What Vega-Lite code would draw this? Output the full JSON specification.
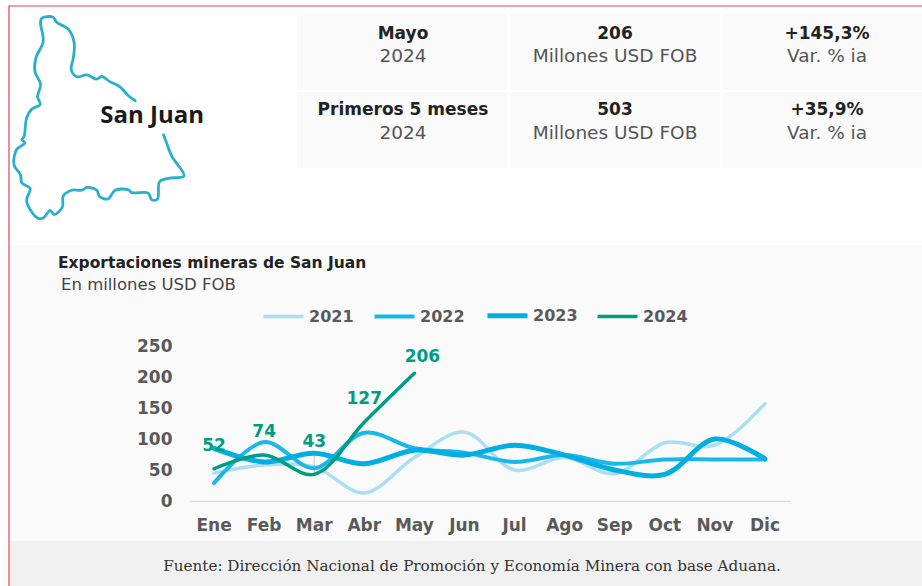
{
"$schema":"https://vega.github.io/schema/vega-lite/v6.json",
"width":922,"height":586,"padding":0,"autosize":{"type":"none"},"background":"white",
"config":{"view":{"stroke":null},"font":"DejaVu Sans","text":{"font":"DejaVu Sans"}},
"datasets":{
"cells":[
{"col":"periodo","row":"mes","head":"Mayo","sub":"2024"},
{"col":"valor","row":"mes","head":"206","sub":"Millones USD FOB"},
{"col":"var","row":"mes","head":"+145,3%","sub":"Var. % ia"},
{"col":"periodo","row":"acum","head":"Primeros 5 meses","sub":"2024"},
{"col":"valor","row":"acum","head":"503","sub":"Millones USD FOB"},
{"col":"var","row":"acum","head":"+35,9%","sub":"Var. % ia"}],
"map":[
{"o":1,"lon":-67.82,"lat":-30.15},{"o":2,"lon":-67.98,"lat":-30.04},{"o":3,"lon":-68.17,"lat":-29.86},{"o":4,"lon":-68.40,"lat":-29.75},{"o":5,"lon":-68.59,"lat":-29.64},{"o":6,"lon":-68.70,"lat":-29.70},{"o":7,"lon":-68.93,"lat":-29.61},{"o":8,"lon":-69.15,"lat":-29.65},{"o":9,"lon":-69.25,"lat":-29.58},{"o":10,"lon":-69.29,"lat":-29.47},{"o":11,"lon":-69.24,"lat":-29.26},{"o":12,"lon":-69.22,"lat":-28.94},{"o":13,"lon":-69.35,"lat":-28.66},{"o":14,"lon":-69.62,"lat":-28.51},{"o":15,"lon":-69.71,"lat":-28.40},{"o":16,"lon":-69.97,"lat":-28.43},{"o":17,"lon":-69.99,"lat":-28.53},{"o":18,"lon":-69.93,"lat":-28.91},{"o":19,"lon":-70.10,"lat":-29.26},{"o":20,"lon":-70.12,"lat":-29.54},{"o":21,"lon":-69.99,"lat":-29.81},{"o":22,"lon":-70.06,"lat":-30.06},{"o":23,"lon":-70.00,"lat":-30.23},{"o":24,"lon":-70.19,"lat":-30.32},{"o":25,"lon":-70.31,"lat":-30.51},{"o":26,"lon":-70.37,"lat":-30.90},{"o":27,"lon":-70.42,"lat":-30.96},{"o":28,"lon":-70.35,"lat":-31.03},{"o":29,"lon":-70.54,"lat":-31.17},{"o":30,"lon":-70.60,"lat":-31.49},{"o":31,"lon":-70.45,"lat":-31.70},{"o":32,"lon":-70.42,"lat":-31.87},{"o":33,"lon":-70.23,"lat":-31.98},{"o":34,"lon":-70.31,"lat":-32.25},{"o":35,"lon":-70.06,"lat":-32.60},{"o":36,"lon":-69.93,"lat":-32.60},{"o":37,"lon":-69.77,"lat":-32.44},{"o":38,"lon":-69.68,"lat":-32.53},{"o":39,"lon":-69.49,"lat":-32.37},{"o":40,"lon":-69.47,"lat":-32.14},{"o":41,"lon":-69.28,"lat":-32.02},{"o":42,"lon":-69.05,"lat":-32.02},{"o":43,"lon":-68.92,"lat":-31.96},{"o":44,"lon":-68.70,"lat":-32.02},{"o":45,"lon":-68.64,"lat":-32.15},{"o":46,"lon":-68.44,"lat":-32.20},{"o":47,"lon":-68.28,"lat":-32.02},{"o":48,"lon":-67.98,"lat":-32.01},{"o":49,"lon":-67.90,"lat":-32.07},{"o":50,"lon":-67.52,"lat":-32.08},{"o":51,"lon":-67.44,"lat":-32.22},{"o":52,"lon":-67.31,"lat":-32.21},{"o":53,"lon":-67.26,"lat":-31.84},{"o":54,"lon":-67.06,"lat":-31.77},{"o":55,"lon":-66.70,"lat":-31.72},{"o":56,"lon":-66.98,"lat":-31.31},{"o":57,"lon":-67.10,"lat":-31.03},{"o":58,"lon":-67.17,"lat":-30.86}],
"series":[
{"mes":"Ene","anio":"2021","v":45},{"mes":"Feb","anio":"2021","v":58},{"mes":"Mar","anio":"2021","v":55},{"mes":"Abr","anio":"2021","v":13},{"mes":"May","anio":"2021","v":70},{"mes":"Jun","anio":"2021","v":111},{"mes":"Jul","anio":"2021","v":50},{"mes":"Ago","anio":"2021","v":70},{"mes":"Sep","anio":"2021","v":44},{"mes":"Oct","anio":"2021","v":94},{"mes":"Nov","anio":"2021","v":90},{"mes":"Dic","anio":"2021","v":157},
{"mes":"Ene","anio":"2022","v":29},{"mes":"Feb","anio":"2022","v":95},{"mes":"Mar","anio":"2022","v":53},{"mes":"Abr","anio":"2022","v":110},{"mes":"May","anio":"2022","v":85},{"mes":"Jun","anio":"2022","v":78},{"mes":"Jul","anio":"2022","v":63},{"mes":"Ago","anio":"2022","v":74},{"mes":"Sep","anio":"2022","v":60},{"mes":"Oct","anio":"2022","v":67},{"mes":"Nov","anio":"2022","v":67},{"mes":"Dic","anio":"2022","v":67},
{"mes":"Ene","anio":"2023","v":85},{"mes":"Feb","anio":"2023","v":63},{"mes":"Mar","anio":"2023","v":77},{"mes":"Abr","anio":"2023","v":60},{"mes":"May","anio":"2023","v":82},{"mes":"Jun","anio":"2023","v":74},{"mes":"Jul","anio":"2023","v":90},{"mes":"Ago","anio":"2023","v":74},{"mes":"Sep","anio":"2023","v":50},{"mes":"Oct","anio":"2023","v":43},{"mes":"Nov","anio":"2023","v":100},{"mes":"Dic","anio":"2023","v":68},
{"mes":"Ene","anio":"2024","v":52},{"mes":"Feb","anio":"2024","v":74},{"mes":"Mar","anio":"2024","v":43},{"mes":"Abr","anio":"2024","v":127},{"mes":"May","anio":"2024","v":206}]
},
"resolve":{"scale":{"x":"independent","y":"independent","color":"independent","strokeWidth":"independent"}},
"layer":[
{"data":{"values":[{"p":"panel"}]},"mark":{"type":"rect","fill":"#fafafa"},
 "encoding":{"x":{"field":"p","type":"nominal","axis":null,"scale":{"type":"band","range":[10,922],"padding":0}},"y":{"field":"p","type":"nominal","axis":null,"scale":{"type":"band","range":[245,541],"padding":0}}}},
{"data":{"values":[{"p":"pie"}]},"mark":{"type":"rect","fill":"#f0f0f0"},
 "encoding":{"x":{"field":"p","type":"nominal","axis":null,"scale":{"type":"band","range":[10,922],"padding":0}},"y":{"field":"p","type":"nominal","axis":null,"scale":{"type":"band","range":[541,586],"padding":0}}}},
{"data":{"values":[{"p":"marco"}]},"mark":{"type":"rect","fill":null,"stroke":"#e2444f","strokeWidth":1.2},
 "encoding":{"x":{"field":"p","type":"nominal","axis":null,"scale":{"type":"band","range":[9,960],"padding":0}},"y":{"field":"p","type":"nominal","axis":null,"scale":{"type":"band","range":[6,640],"padding":0}}}},
{"data":{"name":"cells"},"mark":{"type":"rect","fill":"#fafafa"},
 "encoding":{"x":{"field":"col","type":"nominal","axis":null,"scale":{"type":"band","domain":["periodo","valor","var"],"range":[297,933],"paddingInner":0.012,"paddingOuter":0}},"y":{"field":"row","type":"nominal","axis":null,"scale":{"type":"band","domain":["mes","acum"],"range":[14,168],"paddingInner":0.026,"paddingOuter":0}}}},
{"data":{"name":"cells"},"mark":{"type":"text","font":"DejaVu Sans","fontWeight":700,"fontSize":17,"color":"#222222"},
 "encoding":{"text":{"field":"head"},"x":{"field":"col","type":"nominal","axis":null,"scale":{"type":"band","domain":["periodo","valor","var"],"range":[297,933],"padding":0}},"y":{"field":"row","type":"nominal","axis":null,"scale":{"type":"point","domain":["mes","acum"],"range":[34,110],"padding":0}}}},
{"data":{"name":"cells"},"mark":{"type":"text","font":"DejaVu Sans","fontWeight":400,"fontSize":18.5,"color":"#555555"},
 "encoding":{"text":{"field":"sub"},"x":{"field":"col","type":"nominal","axis":null,"scale":{"type":"band","domain":["periodo","valor","var"],"range":[297,933],"padding":0}},"y":{"field":"row","type":"nominal","axis":null,"scale":{"type":"point","domain":["mes","acum"],"range":[56,133],"padding":0}}}},
{"data":{"name":"map"},"mark":{"type":"line","color":"#27b0cb","strokeWidth":2.8,"strokeJoin":"round","strokeCap":"round","interpolate":"catmull-rom"},
 "encoding":{"order":{"field":"o","type":"quantitative"},"x":{"field":"lon","type":"quantitative","axis":null,"scale":{"domain":[-70.6,-66.7],"range":[14,184],"zero":false,"nice":false}},"y":{"field":"lat","type":"quantitative","axis":null,"scale":{"domain":[-32.6,-28.4],"range":[218,17],"zero":false,"nice":false}}}},
{"data":{"values":[{"n":"San Juan","lon":-67.43,"lat":-30.47}]},"mark":{"type":"text","font":"Open Sans","fontWeight":700,"fontSize":24,"color":"#1a1a1a"},
 "encoding":{"text":{"field":"n"},"x":{"field":"lon","type":"quantitative","axis":null,"scale":{"domain":[-70.6,-66.7],"range":[14,184],"zero":false,"nice":false}},"y":{"field":"lat","type":"quantitative","axis":null,"scale":{"domain":[-32.6,-28.4],"range":[218,17],"zero":false,"nice":false}}}},
{"data":{"values":[{"t":"Exportaciones mineras de San Juan"}]},"mark":{"type":"text","font":"DejaVu Sans","fontWeight":700,"fontSize":15.5,"align":"left","color":"#222222"},
 "encoding":{"text":{"field":"t"},"x":{"field":"t","type":"nominal","axis":null,"scale":{"type":"point","range":[58,58],"padding":0}},"y":{"field":"t","type":"nominal","axis":null,"scale":{"type":"point","range":[263,263],"padding":0}}}},
{"data":{"values":[{"t":"En millones USD FOB"}]},"mark":{"type":"text","font":"DejaVu Sans","fontWeight":400,"fontSize":16.5,"align":"left","color":"#444444"},
 "encoding":{"text":{"field":"t"},"x":{"field":"t","type":"nominal","axis":null,"scale":{"type":"point","range":[61,61],"padding":0}},"y":{"field":"t","type":"nominal","axis":null,"scale":{"type":"point","range":[285,285],"padding":0}}}},
{"data":{"values":[{"t":"Fuente: Dirección Nacional de Promoción y Economía Minera con base Aduana."}]},"mark":{"type":"text","font":"DejaVu Serif","fontSize":15.2,"color":"#333333"},
 "encoding":{"text":{"field":"t"},"x":{"field":"t","type":"nominal","axis":null,"scale":{"type":"point","range":[472,472],"padding":0}},"y":{"field":"t","type":"nominal","axis":null,"scale":{"type":"point","range":[566,566],"padding":0}}}},
{"data":{"values":[{"mes":"Mar","a":43,"b":75}]},"mark":{"type":"rule","color":"#c4c4c4","strokeWidth":1},
 "encoding":{"x":{"field":"mes","type":"nominal","axis":null,"scale":{"type":"band","domain":["Ene","Feb","Mar","Abr","May","Jun","Jul","Ago","Sep","Oct","Nov","Dic"],"range":[189,790],"padding":0}},"y":{"field":"a","type":"quantitative","axis":null,"scale":{"domain":[0,250],"range":[501,346],"nice":false}},"y2":{"field":"b"}}},
{"data":{"name":"series"},"mark":{"type":"line","interpolate":"catmull-rom","strokeCap":"round"},
 "encoding":{
  "x":{"field":"mes","type":"nominal","sort":null,"title":null,"scale":{"type":"band","domain":["Ene","Feb","Mar","Abr","May","Jun","Jul","Ago","Sep","Oct","Nov","Dic"],"range":[189,790],"padding":0},
    "axis":{"orient":"bottom","offset":-85,"zindex":1,"labelAngle":0,"ticks":false,"grid":false,"domainColor":"#dddddd","domainWidth":1.5,"labelColor":"#595959","labelFont":"DejaVu Sans","labelFontWeight":700,"labelFontSize":17,"labelPadding":24,"labelBaseline":"middle"}},
  "y":{"field":"v","type":"quantitative","title":null,"scale":{"domain":[0,250],"range":[501,346],"nice":false,"zero":true},
    "axis":{"orient":"left","offset":-172,"zindex":1,"values":[0,50,100,150,200,250],"ticks":false,"grid":false,"domain":false,"labelColor":"#595959","labelFont":"DejaVu Sans","labelFontWeight":700,"labelFontSize":17,"labelPadding":0}},
  "color":{"field":"anio","type":"nominal","scale":{"domain":["2021","2022","2023","2024"],"range":["#a9def3","#1ab8ea","#00aee3","#009c84"]},
    "legend":{"title":null,"orient":"none","legendX":261,"legendY":293,"direction":"horizontal","columns":4,"symbolType":"stroke","symbolSize":1600,"symbolStrokeWidth":4,"labelFont":"DejaVu Sans","labelFontWeight":700,"labelFontSize":16,"labelColor":"#595959","columnPadding":12,"labelOffset":3,"symbolOpacity":1}},
  "strokeWidth":{"field":"anio","type":"nominal","legend":null,"scale":{"type":"ordinal","domain":["2021","2022","2023","2024"],"range":[3.5,4,5,3.5]}}
 }},
{"data":{"values":[{"mes":"Ene","v":52},{"mes":"Feb","v":74},{"mes":"Abr","v":127}]},"mark":{"type":"text","font":"DejaVu Sans","fontWeight":700,"fontSize":17,"color":"#009c84","dy":-23},
 "encoding":{"text":{"field":"v","type":"quantitative"},"x":{"field":"mes","type":"nominal","axis":null,"scale":{"type":"band","domain":["Ene","Feb","Mar","Abr","May","Jun","Jul","Ago","Sep","Oct","Nov","Dic"],"range":[189,790],"padding":0}},"y":{"field":"v","type":"quantitative","axis":null,"scale":{"domain":[0,250],"range":[501,346],"nice":false}}}},
{"data":{"values":[{"mes":"Mar","v":43}]},"mark":{"type":"text","font":"DejaVu Sans","fontWeight":700,"fontSize":17,"color":"#009c84","dy":-32},
 "encoding":{"text":{"field":"v","type":"quantitative"},"x":{"field":"mes","type":"nominal","axis":null,"scale":{"type":"band","domain":["Ene","Feb","Mar","Abr","May","Jun","Jul","Ago","Sep","Oct","Nov","Dic"],"range":[189,790],"padding":0}},"y":{"field":"v","type":"quantitative","axis":null,"scale":{"domain":[0,250],"range":[501,346],"nice":false}}}},
{"data":{"values":[{"mes":"May","v":206}]},"mark":{"type":"text","font":"DejaVu Sans","fontWeight":700,"fontSize":17,"color":"#009c84","dy":-16,"dx":8},
 "encoding":{"text":{"field":"v","type":"quantitative"},"x":{"field":"mes","type":"nominal","axis":null,"scale":{"type":"band","domain":["Ene","Feb","Mar","Abr","May","Jun","Jul","Ago","Sep","Oct","Nov","Dic"],"range":[189,790],"padding":0}},"y":{"field":"v","type":"quantitative","axis":null,"scale":{"domain":[0,250],"range":[501,346],"nice":false}}}}
]
}
